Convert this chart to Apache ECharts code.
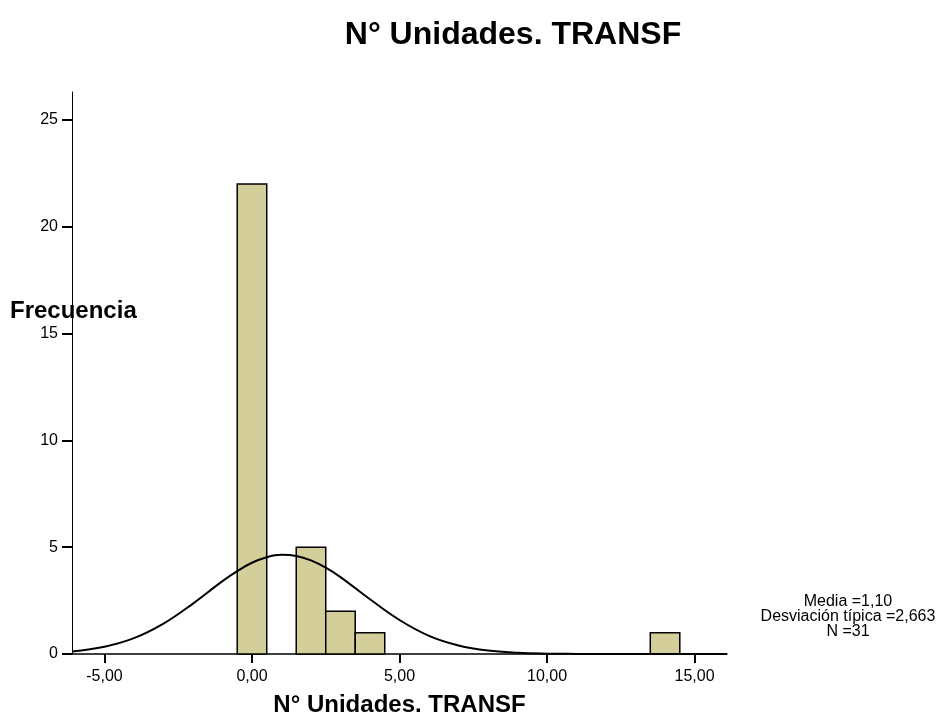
<!DOCTYPE html>
<html>
<head>
<meta charset="utf-8">
<script src="https://cdn.jsdelivr.net/npm/echarts@6/dist/echarts.min.js"></script>
<style>
  html, body { margin: 0; padding: 0; background: #fff; }
  #chart { width: 937px; height: 715px; }
</style>
</head>
<body>
<div id="chart"></div>
<script>
// Histogram bins (unit width) and their frequencies
var binCenters = [0, 2, 3, 4, 14];
var binCounts = [22, 5, 2, 1, 1];

// Fitted normal curve, sampled along the x axis
var curveX = [-6.1, -5, -4, -3, -2, -1, -0.5, 0, 0.5, 1, 1.5, 2, 2.5, 3, 4, 5, 6, 7, 8, 9, 10, 11, 12, 13, 14, 15, 16.1];
var curveY = [0.12, 0.34, 0.74, 1.42, 2.36, 3.41, 3.88, 4.27, 4.53, 4.64, 4.59, 4.38, 4.04, 3.60, 2.56, 1.59, 0.85, 0.40, 0.16, 0.057, 0.017, 0.005, 0.001, 0.0002, 0, 0, 0];

// Tick positions
var xTicks = [-5, 0, 5, 10, 15];
var xTickLabels = ['-5,00', '0,00', '5,00', '10,00', '15,00'];
var yTicks = [0, 5, 10, 15, 20, 25];

// Summary statistics
var statLines = ['Media =1,10', 'Desviación típica =2,663', 'N =31'];

var FONT = '"Liberation Sans", Arial, sans-serif';

var barData = binCenters.map(function (c, i) { return [c, binCounts[i]]; });
var curveData = curveX.map(function (x, i) { return [x, curveY[i]]; });

var chart = echarts.init(document.getElementById('chart'), null, { renderer: 'canvas' });

var statGraphics = statLines.map(function (t, i) {
  return {
    type: 'text', x: 848, y: 602 + i * 15,
    style: { text: t, font: '16px ' + FONT, fill: '#000', textAlign: 'center', textVerticalAlign: 'middle' }
  };
});

chart.setOption({
  animation: false,
  backgroundColor: '#fff',
  title: {
    text: 'N° Unidades. TRANSF',
    left: 508, top: 14, textAlign: 'center',
    textStyle: { fontFamily: FONT, fontSize: 32, fontWeight: 'bold', color: '#000' }
  },
  grid: { left: 72, right: 210, top: 92, bottom: 61, containLabel: false, outerBoundsMode: 'none' },
  xAxis: {
    type: 'value', min: -6.1, max: 16.1,
    name: 'N° Unidades. TRANSF', nameLocation: 'middle', nameGap: 39,
    nameTextStyle: { fontFamily: FONT, fontSize: 24, fontWeight: 'bold', color: '#000' },
    axisLine: { onZero: false, lineStyle: { color: '#000', width: 1.5 } },
    axisTick: { show: true, length: 9, lineStyle: { color: '#000', width: 2 }, customValues: xTicks },
    axisLabel: { color: '#000', fontFamily: FONT, fontSize: 16, margin: 15,
      customValues: xTicks,
      formatter: function (v) { var k = xTicks.indexOf(v); return k >= 0 ? xTickLabels[k] : ''; } },
    splitLine: { show: false }
  },
  yAxis: {
    type: 'value', min: 0, max: 26.3,
    axisLine: { show: true, onZero: false, lineStyle: { color: '#000', width: 1 } },
    axisTick: { show: true, length: 10, lineStyle: { color: '#000', width: 2 }, customValues: yTicks },
    axisLabel: { color: '#000', fontFamily: FONT, fontSize: 16, margin: 14, customValues: yTicks },
    splitLine: { show: false }
  },
  graphic: [
    {
      type: 'text', x: 10, y: 311, z: 100,
      style: { text: 'Frecuencia', font: 'bold 24px ' + FONT, fill: '#000', textAlign: 'left', textVerticalAlign: 'middle' }
    }
  ].concat(statGraphics),
  series: [
    {
      type: 'custom',
      data: barData,
      encode: { x: 0, y: 1 },
      renderItem: function (params, api) {
        var c = api.value(0), n = api.value(1);
        var p0 = api.coord([c - 0.5, n]);
        var p1 = api.coord([c + 0.5, 0]);
        return {
          type: 'rect',
          shape: { x: p0[0], y: p0[1], width: p1[0] - p0[0], height: p1[1] - p0[1] },
          style: { fill: '#d3ce9a', stroke: '#000', lineWidth: 1.5 }
        };
      },
      z: 2
    },
    {
      type: 'line',
      data: curveData,
      smooth: 0.4,
      symbol: 'none',
      lineStyle: { color: '#000', width: 2 },
      z: 3
    }
  ]
});
</script>
</body>
</html>
